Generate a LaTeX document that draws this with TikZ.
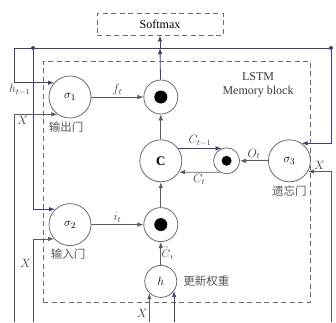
\documentclass[tikz,border=0pt]{standalone}
\usepackage{fontspec}
\usepackage{amsmath}
\setmainfont{Liberation Serif}
\newfontfamily\cjk{Noto Sans CJK SC}
\usetikzlibrary{
  arrows.meta,
  positioning,
  calc
}
\definecolor{lsEdge}{HTML}{6A6A6A}
\definecolor{lsLine}{HTML}{5A5A5A}
\definecolor{lsHid}{HTML}{3E4170}
\definecolor{lsText}{HTML}{3A3A3A}
\tikzset{
  lsnode/.style={
    draw=lsEdge, circle, line width=0.8pt, inner sep=0pt,
    font=\fontsize{13}{15}\selectfont
  },
  gate/.style={lsnode, minimum size=42pt},
  cell/.style={lsnode, minimum size=42pt, font=\fontsize{13}{15}\selectfont\bfseries},
  multnode/.style={lsnode, minimum size=34pt,
    path picture={\fill[black] (path picture bounding box.center) circle (6.5pt);}},
  smallmult/.style={lsnode, minimum size=26pt,
    path picture={\fill[black] (path picture bounding box.center) circle (5pt);}},
  hnode/.style={lsnode, minimum size=32pt},
  zone/.style={draw=lsEdge, dash pattern=on 5pt off 3.5pt, line width=0.8pt},
  flow/.style={-{Latex[length=6pt, width=4.5pt]}, line width=0.8pt, lsLine},
  hflow/.style={flow, lsHid},
  netline/.style={line width=0.8pt, lsHid},
  junction/.style={circle, fill=lsHid, inner sep=0pt, minimum size=4pt},
  tag/.style={font=\fontsize{11.5}{13}\selectfont, text=lsText, inner sep=1.5pt},
  cntag/.style={font=\cjk\fontsize{11.5}{13}\selectfont, text=lsText!85, inner sep=1pt}
}
\begin{document}
\begin{tikzpicture}[x=1pt, y=-1pt]
  \useasboundingbox (0,0) rectangle (336,322);
  % Output layer and memory block frame
  \node[zone, minimum width=126pt, minimum height=22pt, font=\fontsize{12}{14}\selectfont] (softmax) at (160,24) {Softmax};
  \node[zone, minimum width=267pt, minimum height=241pt] (block) at (176.5,181.5) {};
  \node[tag, font=\fontsize{12}{14}\selectfont, align=center, inner sep=0pt] (blocklbl) at (258,85) {LSTM\\Memory block};
  % Gates and cell state
  \node[gate] (sig1) at (70,97) {$\sigma_1$};
  \node[multnode, right=52pt of sig1] (mult1) {};
  \node[cell, below=25pt of mult1] (cell) {C};
  \node[multnode, below=25pt of cell] (mult2) {};
  \node[hnode, below=23pt of mult2] (hcand) {$h$};
  \node[gate, left=52pt of mult2] (sig2) {$\sigma_2$};
  \node[smallmult, right=31pt of cell] (cmul) {};
  \node[gate, right=28pt of cmul] (sig3) {$\sigma_3$};
  % Gate names
  \node[cntag, below=2pt of sig1, xshift=-4pt] (outlbl) {输出门};
  \node[cntag, below=2pt of sig2, xshift=-2pt] (inlbl) {输入门};
  \node[cntag, below=2pt of sig3] (forgetlbl) {遗忘门};
  \node[cntag, right=5pt of hcand] (updlbl) {更新权重};
  % Recurrent h line across the top
  \coordinate (hcorner) at (14,48);
  \coordinate (topjoin) at (160,48);
  \node[junction] (splitL) at (33,48) {};
  \node[junction] (splitR) at (331,48) {};
  \draw[netline] (hcorner) -- (splitR);
  \draw[hflow] (mult1) -- (topjoin);
  \draw[hflow] (topjoin) -- (softmax);
  % Inputs to the gates
  \coordinate (xinL) at (14,322);
  \coordinate (xinM) at (33,322);
  \coordinate (xinR) at (331,322);
  \coordinate (base) at (0,322);
  \draw[hflow] (hcorner) |- node[tag, pos=0.57, below] {$h_{t-1}$} (sig1.138);
  \draw[flow] (xinL) |- node[tag, pos=0.6, below] {$X$} (sig1.-126);
  \draw[hflow] (splitL) |- (sig2.134);
  \draw[flow] (xinM) |- node[tag, pos=0.35, left] {$X$} (sig2.-138);
  \draw[hflow] (splitR) |- (sig3.55);
  \draw[flow] (xinR) |- node[tag, pos=0.75, above] {$X$} (sig3.-30);
  \draw[flow] (hcand.-134 |- base) -- node[tag, pos=0.3, left] {$X$} (hcand.-134);
  \draw[hflow] (hcand.-36 |- base) -- (hcand.-36);
  % Products and cell state loop
  \draw[flow] (sig1) -- node[tag, above] {$f_t$} (mult1);
  \draw[flow] (cell) -- (mult1);
  \draw[flow] (sig2) -- node[tag, above] {$i_t$} (mult2);
  \draw[flow] (mult2) -- (cell);
  \draw[flow] (hcand) -- node[tag, right, inner sep=0.5pt, pos=0.55, font=\fontsize{10.5}{12}\selectfont] {$\overset{\scriptscriptstyle\sim}{C}_t$} (mult2);
  \draw[hflow] (cell.35) -- node[tag, above] {$C_{t-1}$} (cmul.112);
  \draw[flow] (cmul.-122) -- node[tag, below] {$C_t$} (cell.-32);
  \draw[flow] (sig3) -- node[tag, above] {$O_t$} (cmul);
\end{tikzpicture}
\end{document}
